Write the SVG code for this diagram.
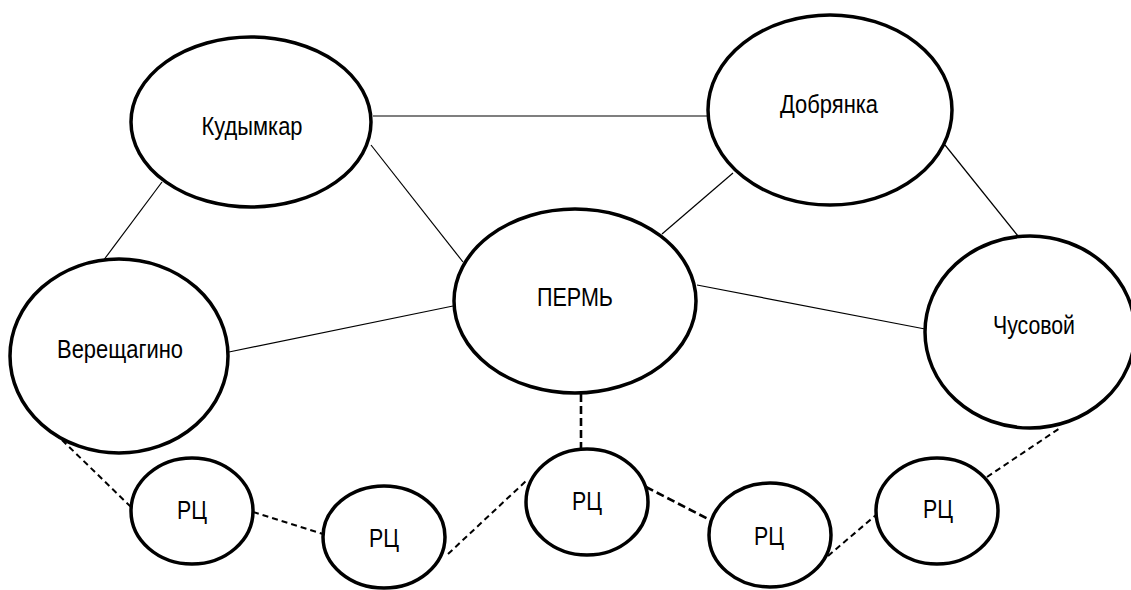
<svg xmlns="http://www.w3.org/2000/svg" width="1131" height="590" viewBox="0 0 1131 590">
<style>
.node{fill:#fff;stroke:#000;stroke-width:3.5}
.lbl{font-family:"Liberation Sans",Arial,sans-serif;font-size:25px;fill:#000;text-anchor:middle}
.solid{stroke:#000;stroke-width:1.2;fill:none}
.dash{stroke:#000;stroke-width:2;stroke-dasharray:6 4;fill:none}
.dash2{stroke:#000;stroke-width:2.6;stroke-dasharray:8 4;fill:none}
</style>
<rect width="1131" height="590" fill="#fff"/>
<g id="connectors">
<line class="solid" x1="373" y1="116" x2="708" y2="116"/>
<line class="solid" x1="371" y1="145" x2="463" y2="262"/>
<line class="solid" x1="162" y1="182" x2="103" y2="261"/>
<line class="solid" x1="229" y1="352" x2="453" y2="306"/>
<line class="solid" x1="733" y1="173" x2="662" y2="234"/>
<line class="solid" x1="945" y1="145" x2="1018" y2="236"/>
<line class="solid" x1="697" y1="285" x2="925" y2="329"/>
<line class="dash" x1="62" y1="440" x2="131" y2="507"/>
<line class="dash" x1="253" y1="512" x2="323" y2="534"/>
<line class="dash" x1="448" y1="554" x2="526" y2="481"/>
<line class="dash2" x1="581" y1="394" x2="581" y2="449"/>
<line class="dash2" x1="646" y1="487" x2="710" y2="520"/>
<line class="dash" x1="828" y1="556" x2="876" y2="515"/>
<line class="dash" x1="987" y1="477" x2="1060" y2="428"/>
</g>
<g id="kudymkar"><ellipse class="node" cx="251" cy="122" rx="120" ry="85"/><text class="lbl" x="252" y="135" textLength="101" lengthAdjust="spacingAndGlyphs">Кудымкар</text></g>
<g id="dobryanka"><ellipse class="node" cx="830" cy="110" rx="122" ry="95"/><text class="lbl" x="829" y="113" textLength="98" lengthAdjust="spacingAndGlyphs">Добрянка</text></g>
<g id="perm"><ellipse class="node" cx="575" cy="301" rx="121" ry="92"/><text class="lbl" x="575" y="306" textLength="76" lengthAdjust="spacingAndGlyphs">ПЕРМЬ</text></g>
<g id="vereshchagino"><ellipse class="node" cx="119" cy="356" rx="109" ry="97"/><text class="lbl" x="120" y="358" textLength="126" lengthAdjust="spacingAndGlyphs">Верещагино</text></g>
<g id="chusovoy"><ellipse class="node" cx="1030" cy="332" rx="105" ry="96"/><text class="lbl" x="1034" y="334" textLength="82" lengthAdjust="spacingAndGlyphs">Чусовой</text></g>
<g id="rc1"><ellipse class="node" cx="192" cy="511" rx="61" ry="53"/><text class="lbl" x="192" y="519" textLength="30" lengthAdjust="spacingAndGlyphs">РЦ</text></g>
<g id="rc2"><ellipse class="node" cx="384" cy="537" rx="61" ry="51"/><text class="lbl" x="384" y="547" textLength="30" lengthAdjust="spacingAndGlyphs">РЦ</text></g>
<g id="rc3"><ellipse class="node" cx="587" cy="502" rx="61" ry="53"/><text class="lbl" x="587" y="510" textLength="30" lengthAdjust="spacingAndGlyphs">РЦ</text></g>
<g id="rc4"><ellipse class="node" cx="770" cy="535" rx="61" ry="52"/><text class="lbl" x="769" y="545" textLength="30" lengthAdjust="spacingAndGlyphs">РЦ</text></g>
<g id="rc5"><ellipse class="node" cx="937" cy="511" rx="61" ry="53"/><text class="lbl" x="938" y="518" textLength="30" lengthAdjust="spacingAndGlyphs">РЦ</text></g>
</svg>
